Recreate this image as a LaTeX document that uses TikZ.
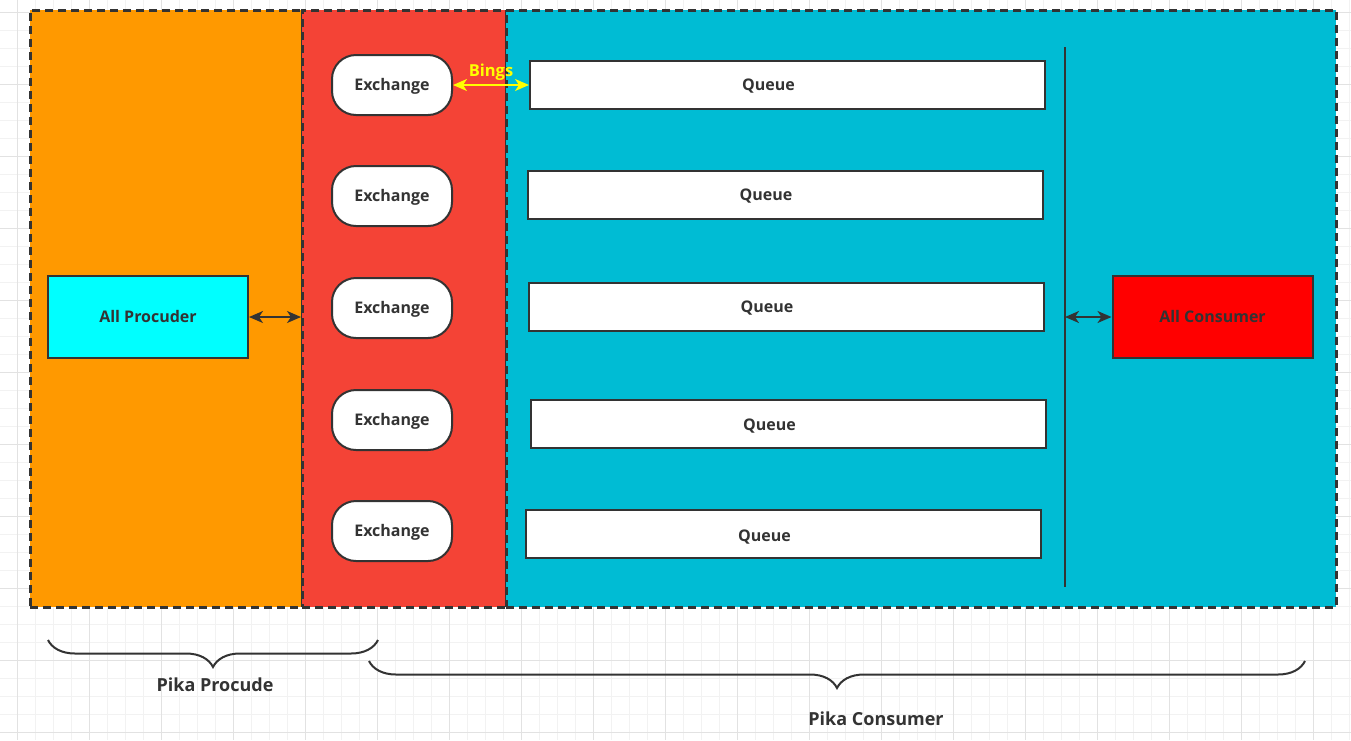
\documentclass[tikz,border=0pt]{standalone}
\usepackage{fontspec}
\setmainfont{Open Sans}
\usetikzlibrary{decorations.pathreplacing,arrows.meta}

\definecolor{ink}{HTML}{333333}
\definecolor{prodorange}{HTML}{FF9900}
\definecolor{exred}{HTML}{F44336}
\definecolor{conscyan}{HTML}{00BCD4}
\definecolor{prodcyan}{HTML}{00FFFF}
\definecolor{consred}{HTML}{FF0000}
\definecolor{bingyellow}{HTML}{FFFF00}
\definecolor{gridminor}{HTML}{F2F2F2}
\definecolor{gridmajor}{HTML}{E2E2E2}

\tikzset{
  boxfont/.style={text=ink, font=\bfseries\fontsize{16}{19}\selectfont, text height=1.1em, text depth=0pt},
  zone/.style={draw=ink, line width=2.5pt, dash pattern=on 8pt off 5pt, inner sep=0pt, anchor=north west},
  exch/.style={boxfont, draw=ink, line width=2pt, fill=white, rounded corners=24pt, minimum width=120pt, minimum height=60pt},
  queue/.style={draw=ink, line width=2pt, fill=white, minimum width=515pt, minimum height=48pt, inner sep=0pt},
  qtext/.style={boxfont, xshift=-19pt},
  actor/.style={boxfont, draw=ink, line width=2pt, minimum width=200pt, minimum height=82pt},
  dblarrow/.style={draw=ink, line width=2pt, {Stealth[length=14pt,width=12pt,inset=4pt]}-{Stealth[length=14pt,width=12pt,inset=4pt]}},
  bingarrow/.style={draw=bingyellow, line width=2pt, {Stealth[length=14pt,width=12pt,inset=4pt]}-{Stealth[length=14pt,width=12pt,inset=4pt]}},
  bracket/.style={draw=ink, line width=2pt, decorate, decoration={brace, amplitude=27pt}},
  caption/.style={text=ink, font=\bfseries\fontsize{18}{21}\selectfont, text height=1.1em, text depth=0pt}
}

\begin{document}
\begin{tikzpicture}[x=1pt, y=-1pt]
    \useasboundingbox (0,0) rectangle (1351,740);
    \fill[white] (0,0) rectangle (1351,740);

    % background grid
    \foreach \gx in {17.5,35.5,...,1351} \draw[gridminor, line width=1pt] (\gx,0) -- (\gx,740);
    \foreach \gy in {12,30,...,740} \draw[gridminor, line width=1pt] (0,\gy) -- (1351,\gy);
    \foreach \gx in {17.5,89.5,...,1351} \draw[gridmajor, line width=1pt] (\gx,0) -- (\gx,740);
    \foreach \gy in {12,84,...,740} \draw[gridmajor, line width=1pt] (0,\gy) -- (1351,\gy);

    % zones
    \node[zone, fill=prodorange, minimum width=272pt, minimum height=597pt] (prodzone) at (29,9) {};
    \node[zone, fill=exred, minimum width=204pt, minimum height=597pt] (exzone) at (301,9) {};
    \node[zone, fill=conscyan, minimum width=830pt, minimum height=597pt] (conszone) at (505,9) {};

    % producer side
    \node[actor, fill=prodcyan] (producer) at (148,317) {All Procuder};
    \draw[dblarrow] (producer.east) -- (producer.east -| exzone.west);

    % exchanges
    \node[exch] (ex1) at (392,85) {Exchange};
    \node[exch] (ex2) at (392,196) {Exchange};
    \node[exch] (ex3) at (392,308) {Exchange};
    \node[exch] (ex4) at (392,420) {Exchange};
    \node[exch] (ex5) at (392,531) {Exchange};

    % queues
    \node[queue, label={[qtext]center:Queue}] (q1) at (787.5,85) {};
    \node[queue, label={[qtext]center:Queue}] (q2) at (785,195) {};
    \node[queue, label={[qtext]center:Queue}] (q3) at (786,307) {};
    \node[queue, label={[qtext, yshift=-1pt]center:Queue}] (q4) at (788.5,424) {};
    \node[queue, label={[qtext, yshift=-2pt]center:Queue}] (q5) at (783.5,534) {};

    \draw[bingarrow] (ex1.east) -- (q1.west)
        node[midway, above=3pt, text=bingyellow, font=\bfseries\fontsize{16.5}{19}\selectfont, inner sep=1pt] (bings) {Bings};

    % consumer side
    \coordinate (bartop) at (1065,47);
    \coordinate (barbot) at (1065,587);
    \draw[ink, line width=2pt] (bartop) -- (barbot);
    \node[actor, fill=consred] (consumer) at (1212.5,317) {All Consumer};
    \draw[dblarrow] (consumer.west) -- (consumer.west -| bartop);

    % braces
    \coordinate (pbl) at (48,640);
    \coordinate (pbr) at (378,640);
    \coordinate (cbl) at (369,661);
    \coordinate (cbr) at (1305,661);
    \draw[bracket] (pbr) -- (pbl);
    \draw[bracket] (cbr) -- (cbl);
    \node[caption] (pikaprod) at (215,686) {Pika Procude};
    \node[caption] (pikacons) at (876,720) {Pika Consumer};
\end{tikzpicture}
\end{document}
